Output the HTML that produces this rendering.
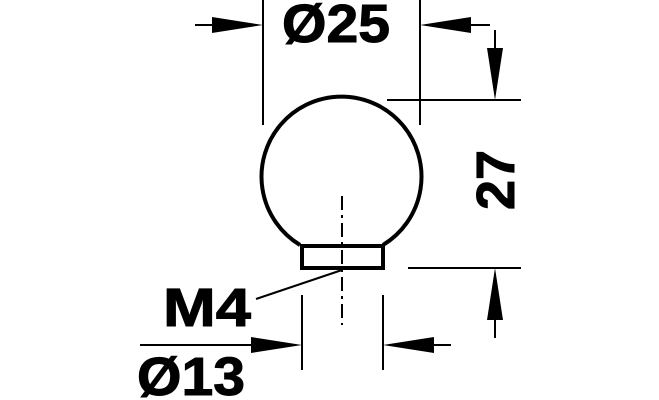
<!DOCTYPE html>
<html><head><style>body{margin:0;background:#fff}svg{display:block}</style></head><body>
<svg width="659" height="400" viewBox="0 0 659 400" xmlns="http://www.w3.org/2000/svg">
<g stroke="#000" fill="none">
<line x1="263" y1="0" x2="263" y2="125" stroke-width="2"/>
<line x1="420" y1="0" x2="420" y2="125" stroke-width="2"/>
<line x1="195" y1="25" x2="240" y2="25" stroke-width="2"/>
<line x1="440" y1="25" x2="490" y2="25" stroke-width="2"/>
<line x1="387" y1="100" x2="521" y2="100" stroke-width="2"/>
<line x1="408" y1="268" x2="521" y2="268" stroke-width="2"/>
<line x1="495" y1="30" x2="495" y2="70" stroke-width="2"/>
<line x1="495" y1="295" x2="495" y2="338" stroke-width="2"/>
<path d="M300,245 A80,80 0 1 1 383,245" stroke-width="4"/>
<rect x="302" y="246" width="81" height="22" stroke-width="4"/>
<line x1="342" y1="196" x2="342" y2="325" stroke-width="2" stroke-dasharray="14,5,3,5"/>
<line x1="342" y1="270" x2="256" y2="299" stroke-width="2"/>
<line x1="302" y1="295" x2="302" y2="370" stroke-width="2"/>
<line x1="383" y1="295" x2="383" y2="370" stroke-width="2"/>
<line x1="140" y1="345" x2="280" y2="345" stroke-width="2"/>
<line x1="405" y1="345" x2="451" y2="345" stroke-width="2"/>
</g>
<g fill="#000">
<polygon points="263,25 212,17 212,33"/>
<polygon points="420,25 471,17 471,33"/>
<polygon points="495,100 487,48 503,48"/>
<polygon points="495,268 487,320 503,320"/>
<polygon points="302,345 251,337 251,353"/>
<polygon points="383,345 434,337 434,353"/>
</g>
<g font-family="Liberation Sans, sans-serif" font-weight="bold" font-size="54" fill="#000" stroke="#000" stroke-width="1">
<text x="282" y="42" textLength="108" lengthAdjust="spacingAndGlyphs">Ø25</text>
<text x="163" y="326" textLength="88" lengthAdjust="spacingAndGlyphs">M4</text>
<text x="137" y="395" textLength="108" lengthAdjust="spacingAndGlyphs">Ø13</text>
<text transform="translate(514,180) rotate(-90)" text-anchor="middle">27</text>
</g>
</svg>
</body></html>
